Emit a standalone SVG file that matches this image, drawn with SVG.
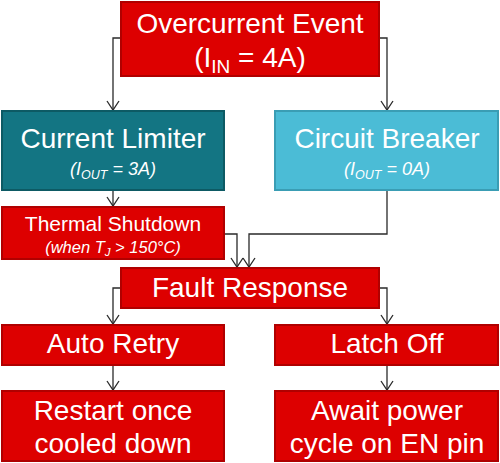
<svg xmlns="http://www.w3.org/2000/svg" width="500" height="463" viewBox="0 0 500 463">
<style>
.red{fill:#DD0000;stroke:#B00000;stroke-width:2}
.teal{fill:#137583;stroke:#0D5A64;stroke-width:2}
.cyan{fill:#4BBCD6;stroke:#3A9DB4;stroke-width:2}
text{font-family:"Liberation Sans",Arial,sans-serif;fill:#fff;text-anchor:middle}
.big{font-size:28px}
.mid{font-size:21px}
.it{font-size:18px;font-style:italic}
.sm{font-size:16.5px;font-style:italic}
.con path{fill:none;stroke:#2a2a2a;stroke-width:1.3;marker-end:url(#ah)}
</style>
<defs>
<marker id="ah" viewBox="0 0 12 14" refX="10" refY="7" markerWidth="12" markerHeight="14" markerUnits="userSpaceOnUse" orient="auto">
<path d="M1,1 L10,7 L1,13" fill="none" stroke="#2a2a2a" stroke-width="1.3"/>
</marker>
</defs>
<g class="con">
<path d="M121,38 H113 V110"/>
<path d="M379,38 H387 V110"/>
<path d="M113,190 V206"/>
<path d="M224,234 H237 V267"/>
<path d="M387,190 V234 H249 V267"/>
<path d="M121,288 H113 V324"/>
<path d="M379,288 H387 V324"/>
<path d="M113,365 V390"/>
<path d="M387,365 V390"/>
</g>
<g id="overcurrent">
<rect class="red" x="121" y="2" width="258" height="74"/>
<text class="big" x="250" y="33">Overcurrent Event</text>
<text class="big" x="250" y="67">(I<tspan font-size="19" dy="6">IN</tspan><tspan dy="-6"> = 4A)</tspan></text>
</g>
<g id="limiter">
<rect class="teal" x="2" y="111" width="222" height="79"/>
<text class="big" x="113" y="148">Current Limiter</text>
<text class="it" x="113" y="175">(I<tspan font-size="12.5" dy="4">OUT</tspan><tspan dy="-4"> = 3A)</tspan></text>
</g>
<g id="breaker">
<rect class="cyan" x="275" y="111" width="223" height="79"/>
<text class="big" x="387" y="148">Circuit Breaker</text>
<text class="it" x="387" y="175">(I<tspan font-size="12.5" dy="4">OUT</tspan><tspan dy="-4"> = 0A)</tspan></text>
</g>
<g id="thermal">
<rect class="red" x="2" y="207" width="222" height="52"/>
<text class="mid" x="113" y="231">Thermal Shutdown</text>
<text class="sm" x="113" y="253">(when T<tspan font-size="11.5" dy="3">J</tspan><tspan dy="-3"> &gt; 150°C)</tspan></text>
</g>
<g id="fault">
<rect class="red" x="121" y="268" width="258" height="40"/>
<text class="big" x="250" y="297">Fault Response</text>
</g>
<g id="retry">
<rect class="red" x="2" y="325" width="222" height="40"/>
<text class="big" x="113" y="353">Auto Retry</text>
</g>
<g id="latch">
<rect class="red" x="275" y="325" width="223" height="40"/>
<text class="big" x="387" y="353">Latch Off</text>
</g>
<g id="restart">
<rect class="red" x="2" y="391" width="222" height="70"/>
<text class="big" x="113" y="420">Restart once</text>
<text class="big" x="113" y="453">cooled down</text>
</g>
<g id="await">
<rect class="red" x="275" y="391" width="223" height="70"/>
<text class="big" x="387" y="420">Await power</text>
<text class="big" x="387" y="453">cycle on EN pin</text>
</g>
</svg>
